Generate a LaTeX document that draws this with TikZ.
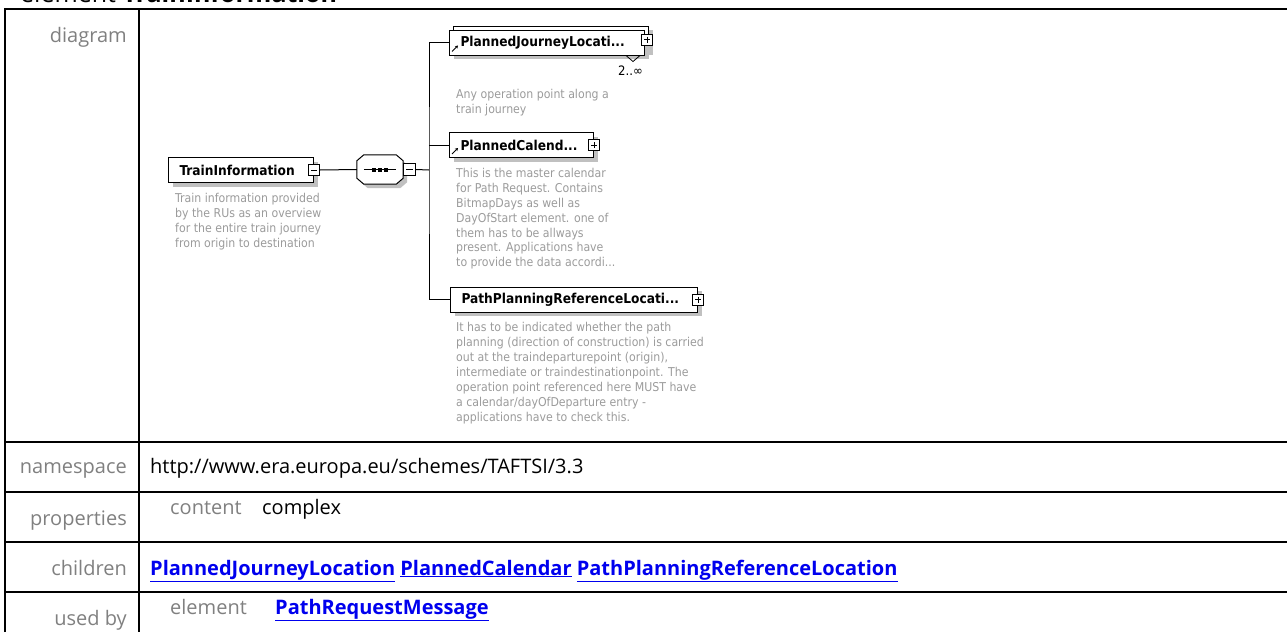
\documentclass[tikz,border=0pt]{standalone}
\usepackage{fontspec}
\setmainfont{Open Sans}
\newfontfamily\diafont{DejaVu Sans Condensed}
\usetikzlibrary{arrows.meta,positioning,calc,shadows}
\definecolor{LblGray}{RGB}{128,128,128}
\definecolor{DescGray}{RGB}{155,155,155}
\definecolor{ShadeGray}{RGB}{192,192,192}
\definecolor{LinkBlue}{RGB}{0,0,238}
\newcommand{\lnk}[1]{\underline{#1}}
\tikzset{
  rowlbl/.style={anchor=base east,inner sep=0pt,text=LblGray,font=\fontsize{20}{24}\selectfont},
  rowtxt/.style={anchor=base west,inner sep=0pt,font=\fontsize{20}{24}\selectfont},
  rowlink/.style={rowtxt,text=LinkBlue,font=\fontsize{20}{24}\selectfont\bfseries},
  elem/.style={draw=black,fill=white,line width=1pt,minimum height=25pt,anchor=west,
               inner xsep=11pt,inner ysep=0pt,align=left,
               font=\diafont\fontsize{13.6}{15}\selectfont\bfseries,
               drop shadow={shadow xshift=4pt,shadow yshift=-4pt,fill=ShadeGray,opacity=1}},
  desc/.style={inner sep=0pt,align=left,text=DescGray,
               font=\diafont\fontsize{12.2}{14.9}\selectfont},
  seqbox/.style={minimum width=46pt,minimum height=29pt,inner sep=0pt},
  minusbox/.style={draw=black,fill=white,line width=0.8pt,minimum size=11pt,inner sep=0pt,
               path picture={\draw[line width=0.8pt]
                 ([xshift=2.5pt]path picture bounding box.west) -- ([xshift=-2.5pt]path picture bounding box.east);}},
  plusbox/.style={draw=black,fill=white,line width=0.8pt,minimum size=11pt,inner sep=0pt,
               path picture={\draw[line width=0.8pt]
                 ([xshift=2.5pt]path picture bounding box.west) -- ([xshift=-2.5pt]path picture bounding box.east)
                 ([yshift=-2.5pt]path picture bounding box.north) -- ([yshift=2.5pt]path picture bounding box.south);}},
  refarrow/.style={-{Stealth[length=3pt,width=3.5pt]},line width=0.9pt},
  conn/.style={line width=1pt},
  grid/.style={line width=2pt},
}
\begin{document}
\begin{tikzpicture}[x=1pt,y=-1pt]
  \useasboundingbox (0,0) rectangle (1287,632);
  \node[anchor=base west,inner sep=0pt,font=\fontsize{25}{30}\selectfont] (title) at (20,2)
    {element \textbf{TrainInformation}};
  % table
  \draw[grid] (5,632) -- (5,9) -- (1287,9);
  \draw[grid] (139,9) -- (139,632);
  \foreach \y in {442,492,542,592}
    \draw[grid] (5,\y) -- (1287,\y);
  \node[rowlbl] (ldia) at (127,42) {diagram};
  \node[rowlbl] (lns) at (127,473) {namespace};
  \node[rowtxt] (ns) at (150,473) {http://www.era.europa.eu/schemes/TAFTSI/3.3};
  \node[rowlbl] (lprop) at (127,525) {properties};
  \node[rowtxt,text=LblGray] (content) at (170,514) {content};
  \node[rowtxt] (cplx) at (262,514) {complex};
  \node[rowlbl] (lchild) at (127,575) {children};
  \node[rowlink] (kids) at (150,575)
    {\lnk{PlannedJourneyLocation} \lnk{PlannedCalendar} \lnk{PathPlanningReferenceLocation}};
  \node[rowlbl] (lused) at (127,625) {used by};
  \node[rowtxt,text=LblGray] (uelem) at (170,614) {element};
  \node[rowlink] (prm) at (275,614) {\lnk{PathRequestMessage}};
  % diagram
  \node[elem,text width=123pt] (ti) at (168,170) {TrainInformation};
  \node[minusbox] (tim) at (ti.east) {};
  \node[desc,below right=10pt and 7pt of ti.south west] (tid)
    {Train information provided\\by the RUs as an overview\\for the entire train journey\\from origin to destination};
  \node[seqbox] (seq) at (380,169.5) {};
  \draw[fill=white,line width=1pt,drop shadow={shadow xshift=4pt,shadow yshift=-4pt,fill=ShadeGray,opacity=1}]
    ([xshift=7pt]seq.north west) -- ([xshift=-7pt]seq.north east) -- ([yshift=-6pt]seq.north east)
    -- ([yshift=6pt]seq.south east) -- ([xshift=-7pt]seq.south east) -- ([xshift=7pt]seq.south west)
    -- ([yshift=6pt]seq.south west) -- ([yshift=-6pt]seq.north west) -- cycle;
  \draw[line width=1pt] ([xshift=7pt]seq.west) -- ([xshift=-7pt]seq.east);
  \foreach \d in {-6,0,6}
    \fill ($(seq.center)+(\d-2,-2)$) rectangle ++(4,4);
  \node[minusbox,minimum size=12pt,right=0pt of seq] (seqm) {};
  \coordinate (bus) at (429,170);
  \node[elem,minimum width=195pt] (pjlb) at (453,38.5) {};
  \node[elem,text width=173pt] (pjl) at (449,42.5) {PlannedJourneyLocati...};
  \node[plusbox] (pjlp) at ($(pjl.east)+(2,-3)$) {};
  \draw[refarrow] ($(pjl.south west)+(3,-4)$) -- ++(6,-6);
  \draw[line width=0.8pt] ($(pjl.south east)+(-19,0)$) -- ++(7,6) -- ++(7,-6);
  \node[anchor=north east,inner sep=0pt,font=\diafont\fontsize{13}{15}\selectfont] (pjlocc)
    at ($(pjl.south east)+(-2,10)$) {2..∞};
  \node[desc,below right=34pt and 7pt of pjl.south west] (pjld)
    {Any operation point along a\\train journey};
  \node[elem,text width=122pt] (pc) at (449,145) {PlannedCalend...};
  \node[plusbox] (pcp) at (pc.east) {};
  \draw[refarrow] ($(pc.south west)+(3,-4)$) -- ++(6,-6);
  \node[desc,below right=10pt and 7pt of pc.south west] (pcd)
    {This is the master calendar\\for Path Request. Contains\\BitmapDays as well as\\DayOfStart element. one of\\them has to be allways\\present. Applications have\\to provide the data accordi...};
  \node[elem,text width=225pt] (ppl) at (450,299.5) {PathPlanningReferenceLocati...};
  \node[plusbox] (pplp) at (ppl.east) {};
  \node[desc,below right=10pt and 6pt of ppl.south west] (ppld)
    {It has to be indicated whether the path\\planning (direction of construction) is carried\\out at the traindeparturepoint (origin),\\intermediate or traindestinationpoint. The\\operation point referenced here MUST have\\a calendar/dayOfDeparture entry -\\applications have to check this.};
  % connectors
  \draw[conn] (tim.east) -- (seq.west);
  \draw[conn] (seqm.east) -- (bus);
  \draw[conn] (pjl.west) -| (bus) |- (ppl.west);
  \draw[conn] (pc.west) -- (pc.west -| bus);
\end{tikzpicture}
\end{document}
